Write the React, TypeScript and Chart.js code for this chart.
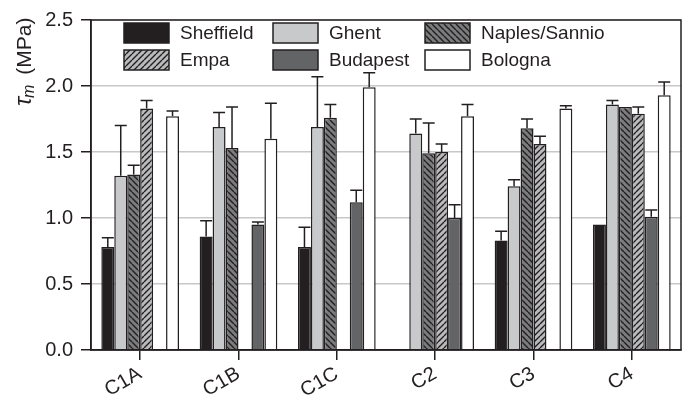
import React, { useEffect, useRef } from "react";
import { Chart, registerables } from "chart.js";

Chart.register(...registerables);

const categories = ["C1A", "C1B", "C1C", "C2", "C3", "C4"];
const seriesNames = ["Sheffield", "Ghent", "Naples/Sannio", "Empa", "Budapest", "Bologna"];

const sheffield = [0.78, 0.86, 0.78, null, 0.83, 0.95];
const sheffieldErr = [0.07, 0.12, 0.15, null, 0.07, null];
const ghent = [1.32, 1.69, 1.69, 1.64, 1.24, 1.86];
const ghentErr = [0.38, 0.11, 0.38, 0.11, 0.05, 0.03];
const naples = [1.33, 1.53, 1.76, 1.49, 1.68, 1.84];
const naplesErr = [0.07, 0.31, 0.1, 0.23, 0.07, null];
const empa = [1.83, null, null, 1.5, 1.56, 1.79];
const empaErr = [0.06, null, null, 0.06, 0.06, 0.05];
const budapest = [null, 0.95, 1.12, 1.0, null, 1.01];
const budapestErr = [null, 0.02, 0.09, 0.1, null, 0.05];
const bologna = [1.77, 1.6, 1.99, 1.77, 1.83, 1.93];
const bolognaErr = [0.04, 0.27, 0.11, 0.09, 0.02, 0.1];

const yTicks = [0, 0.5, 1.0, 1.5, 2.0, 2.5];

const DARK = "#231f20";
const FONT = "'Liberation Sans', Arial, sans-serif";

function makePattern(bg: string, dir: "back" | "fwd"): CanvasPattern | string {
  const s = 6;
  const c = document.createElement("canvas");
  c.width = s;
  c.height = s;
  const g = c.getContext("2d");
  if (!g) return bg;
  g.fillStyle = bg;
  g.fillRect(0, 0, s, s);
  g.strokeStyle = DARK;
  g.lineWidth = 1.4;
  g.beginPath();
  for (let k = -1; k <= 1; k++) {
    if (dir === "back") {
      g.moveTo(k * s, 0);
      g.lineTo(k * s + s, s);
    } else {
      g.moveTo(k * s, s);
      g.lineTo(k * s + s, 0);
    }
  }
  g.stroke();
  const p = g.createPattern(c, "repeat");
  return p || bg;
}

const errorBarsPlugin = {
  id: "errorBars",
  afterDatasetsDraw(chart: any) {
    const ctx = chart.ctx;
    const yScale = chart.scales.y;
    ctx.save();
    ctx.strokeStyle = DARK;
    ctx.lineWidth = 1.5;
    chart.data.datasets.forEach((ds: any, di: number) => {
      const meta = chart.getDatasetMeta(di);
      const errs = ds.errors || [];
      meta.data.forEach((el: any, i: number) => {
        const v = ds.data[i];
        const e = errs[i];
        if (v == null || e == null) return;
        const yTop = yScale.getPixelForValue(v + e);
        const yBar = yScale.getPixelForValue(v);
        const x = el.x;
        ctx.beginPath();
        ctx.moveTo(x, yBar);
        ctx.lineTo(x, yTop);
        ctx.moveTo(x - 6, yTop);
        ctx.lineTo(x + 6, yTop);
        ctx.stroke();
      });
    });
    ctx.restore();
  },
};

const framePlugin = {
  id: "frameLegend",
  afterDraw(chart: any) {
    const ctx = chart.ctx;
    const a = chart.chartArea;
    ctx.save();
    // frame
    ctx.strokeStyle = DARK;
    ctx.lineWidth = 1.5;
    ctx.strokeRect(a.left, a.top, a.right - a.left, a.bottom - a.top);

    // legend
    const colX = [124, 273, 425];
    const rowY = [23, 50];
    chart.data.datasets.forEach((ds: any, i: number) => {
      const col = i % 3;
      const row = Math.floor(i / 3);
      const x = colX[col];
      const y = rowY[row];
      ctx.fillStyle = ds.backgroundColor;
      ctx.fillRect(x, y, 45, 20);
      ctx.strokeStyle = DARK;
      ctx.lineWidth = 1.5;
      ctx.strokeRect(x, y, 45, 20);
      ctx.fillStyle = DARK;
      ctx.font = `19px ${FONT}`;
      ctx.textBaseline = "middle";
      ctx.textAlign = "left";
      ctx.fillText(ds.label, x + 56, y + 11);
    });

    // y-axis title: tau_m (MPa)
    ctx.translate(25, 106);
    ctx.rotate(-Math.PI / 2);
    ctx.fillStyle = DARK;
    ctx.textAlign = "left";
    ctx.textBaseline = "middle";
    ctx.font = `italic 24px ${FONT}`;
    ctx.fillText("τ", 0, -1);
    const wt = ctx.measureText("τ").width;
    ctx.font = `italic 16px ${FONT}`;
    ctx.fillText("m", wt - 1, 5);
    const wm = ctx.measureText("m").width;
    ctx.font = `21px ${FONT}`;
    ctx.fillText("(MPa)", wt + wm + 9, 0);
    ctx.restore();
  },
};

export default function App() {
  const ref = useRef<HTMLCanvasElement | null>(null);

  useEffect(() => {
    if (!ref.current) return;
    const naplesFill = makePattern("#7b7c7e", "back");
    const empaFill = makePattern("#b9babc", "fwd");
    const values = [sheffield, ghent, naples, empa, budapest, bologna];
    const errors = [sheffieldErr, ghentErr, naplesErr, empaErr, budapestErr, bolognaErr];
    const fills: any[] = ["#231f20", "#c8c9cb", naplesFill, empaFill, "#636466", "#ffffff"];

    const chart = new Chart(ref.current, {
      type: "bar",
      data: {
        labels: categories,
        datasets: values.map((v, i) => ({
          label: seriesNames[i],
          data: v as any,
          errors: errors[i],
          backgroundColor: fills[i],
          borderColor: DARK,
          borderWidth: 1.5,
          barPercentage: 1,
          categoryPercentage: 0.79,
        })) as any,
      },
      options: {
        responsive: false,
        animation: false,
        events: [],
        layout: { padding: { left: 0, top: 20, right: 10, bottom: 0 } },
        plugins: {
          legend: { display: false },
          tooltip: { enabled: false },
          title: { display: false },
        },
        scales: {
          x: {
            afterFit: (s: any) => {
              s.height = 52;
            },
            grid: {
              display: true,
              drawOnChartArea: false,
              drawTicks: true,
              tickLength: 10,
              offset: false,
              tickColor: DARK,
              tickWidth: 1.5,
              lineWidth: 1.5,
            },
            border: { color: DARK, width: 1.5 },
            ticks: {
              color: DARK,
              font: { family: FONT, size: 20 },
              minRotation: 30,
              maxRotation: 30,
              padding: 2,
              autoSkip: false,
            },
          },
          y: {
            min: 0,
            max: 2.5,
            afterFit: (s: any) => {
              s.width = 91;
            },
            afterBuildTicks: (s: any) => {
              s.ticks = yTicks.map((v) => ({ value: v }));
            },
            grid: {
              color: "#c8c8c8",
              lineWidth: 1.5,
              tickLength: 10,
              tickColor: DARK,
              tickWidth: 1.5,
            },
            border: { color: DARK, width: 1.5 },
            ticks: {
              color: DARK,
              font: { family: FONT, size: 20 },
              padding: 8,
              callback: (v: any) => Number(v).toFixed(1),
            },
          },
        },
      },
      plugins: [errorBarsPlugin, framePlugin],
    });
    return () => chart.destroy();
  }, []);

  return (
    <div style={{ position: "absolute", left: 0, top: 0, width: 691, height: 402, background: "#fff" }}>
      <canvas ref={ref} width={691} height={402} />
    </div>
  );
}
